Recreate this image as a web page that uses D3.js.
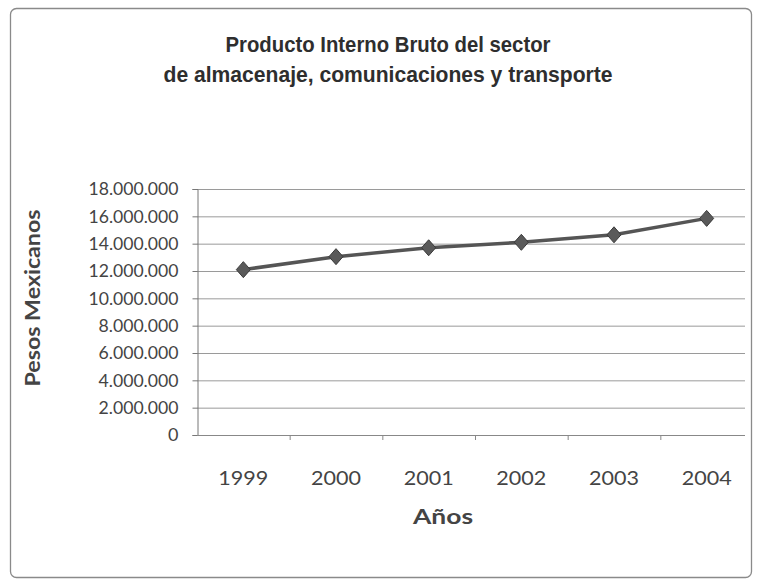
<!DOCTYPE html>
<html>
<head>
<meta charset="utf-8">
<script src="https://cdn.jsdelivr.net/npm/d3@7"></script>
<style>
  html, body { margin: 0; padding: 0; background: #fff; }
  svg { display: block; }
</style>
</head>
<body>
<svg id="chart" width="759" height="581"></svg>
<script>
(function(){
'use strict';

// data
var years = ['1999', '2000', '2001', '2002', '2003', '2004'];
var pib = [12100000, 13050000, 13700000, 14100000, 14650000, 15850000];
var yTicks = [0, 2000000, 4000000, 6000000, 8000000, 10000000, 12000000, 14000000, 16000000, 18000000];
var titleLines = ['Producto Interno Bruto del sector', 'de almacenaje, comunicaciones y transporte'];

var svg = d3.select('#chart');
var plot = {left: 197, right: 753, top: 189, bottom: 435};
var bodyFont = 'Lato, "Open Sans", sans-serif';

// chart frame
svg.append('rect')
    .attr('x', 10.5).attr('y', 8.5)
    .attr('width', 741).attr('height', 569)
    .attr('rx', 6)
    .attr('fill', '#fff')
    .attr('stroke', '#8a8a8a')
    .attr('stroke-width', 1.3);

var x = d3.scaleBand().domain(years).range([plot.left, plot.right]);
var y = d3.scaleLinear().domain([0, 18000000]).range([plot.bottom, plot.top]);

var fmt = function(v) { return d3.format(',')(v).replace(/,/g, '.'); };

// gridlines
svg.append('g').selectAll('line').data(yTicks.filter(function(d) { return d > 0; }))
    .enter().append('line')
    .attr('x1', plot.left).attr('x2', plot.right - 8)
    .attr('y1', function(d) { return y(d) + 0.5; })
    .attr('y2', function(d) { return y(d) + 0.5; })
    .attr('stroke', '#9a9a9a')
    .attr('stroke-width', 1);

// y axis
var yAxis = svg.append('g')
    .attr('transform', 'translate(' + (plot.left + 0.5) + ',0)')
    .call(d3.axisLeft(y).tickValues(yTicks).tickSize(5).tickFormat(fmt));
yAxis.select('.domain').attr('stroke', '#777');
yAxis.selectAll('.tick line').attr('stroke', '#777');
yAxis.selectAll('.tick text')
    .attr('x', -19)
    .attr('font-family', bodyFont)
    .attr('font-size', 18)
    .attr('fill', '#444')
    .each(function(d) {
        if (d > 0) {
            var n = this.textContent.length;
            d3.select(this).attr('textLength', n === 10 ? 90 : 80).attr('lengthAdjust', 'spacingAndGlyphs');
        }
    });

// x axis
var xAxis = svg.append('g')
    .attr('transform', 'translate(0,' + (plot.bottom + 0.5) + ')')
    .call(d3.axisBottom(x).tickSize(0).tickPadding(35));
xAxis.select('.domain').attr('stroke', '#888').attr('d', 'M' + plot.left + ',0H' + (plot.right - 8));
xAxis.selectAll('.tick text')
    .attr('font-family', bodyFont)
    .attr('font-size', 20)
    .attr('fill', '#444')
    .attr('textLength', 50)
    .attr('lengthAdjust', 'spacingAndGlyphs');
svg.append('g').selectAll('line').data(years.slice(1))
    .enter().append('line')
    .attr('x1', function(d) { return x(d) + 0.5; })
    .attr('x2', function(d) { return x(d) + 0.5; })
    .attr('y1', plot.bottom).attr('y2', plot.bottom + 5)
    .attr('stroke', '#888');

// series line
var line = d3.line()
    .x(function(d, i) { return x(years[i]) + x.bandwidth() / 2; })
    .y(function(d) { return y(d); });

svg.append('path')
    .datum(pib)
    .attr('d', line)
    .attr('fill', 'none')
    .attr('stroke', '#555')
    .attr('stroke-width', 3.5);

svg.append('g').selectAll('path').data(pib)
    .enter().append('path')
    .attr('transform', function(d, i) {
        return 'translate(' + (x(years[i]) + x.bandwidth() / 2) + ',' + y(d) + ')';
    })
    .attr('d', 'M0,-8L7,0L0,8L-7,0Z')
    .attr('fill', '#5a5a5a')
    .attr('stroke', '#3a3a3a')
    .attr('stroke-width', 1);

// titles
var titleWidths = [325, 449];
svg.append('g').selectAll('text').data(titleLines)
    .enter().append('text')
    .attr('x', 388)
    .attr('y', function(d, i) { return 52 + i * 30; })
    .attr('text-anchor', 'middle')
    .attr('font-family', '"Liberation Sans Narrow", "Arial Narrow", "Liberation Sans", sans-serif')
    .attr('font-weight', 'bold')
    .attr('font-size', 22)
    .attr('fill', '#2e2e2e')
    .attr('textLength', function(d, i) { return titleWidths[i]; })
    .attr('lengthAdjust', 'spacingAndGlyphs')
    .text(function(d) { return d; });

svg.append('text')
    .attr('transform', 'translate(40,298) rotate(-90)')
    .attr('text-anchor', 'middle')
    .attr('font-family', bodyFont)
    .attr('font-weight', 'bold')
    .attr('font-size', 21)
    .attr('fill', '#444')
    .attr('textLength', 177)
    .attr('lengthAdjust', 'spacingAndGlyphs')
    .text('Pesos Mexicanos');

svg.append('text')
    .attr('x', 443)
    .attr('y', 524)
    .attr('text-anchor', 'middle')
    .attr('font-family', bodyFont)
    .attr('font-weight', 'bold')
    .attr('font-size', 21)
    .attr('fill', '#444')
    .attr('textLength', 60)
    .attr('lengthAdjust', 'spacingAndGlyphs')
    .text('Años');
})();
</script>
</body>
</html>
